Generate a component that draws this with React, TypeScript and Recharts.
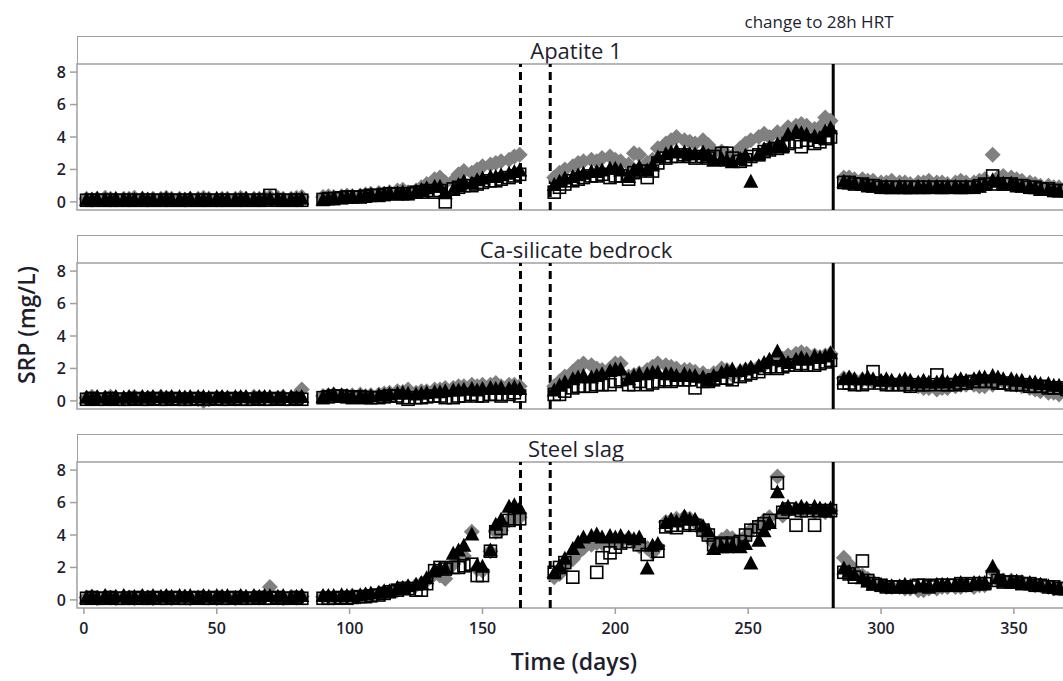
import React from 'react';
import { ScatterChart, Scatter, XAxis, YAxis, ReferenceLine, ReferenceArea } from 'recharts';

// ---- sampling days (four segments) ----
const daysA = [1,3,5,8,10,12,15,17,19,22,24,26,29,31,33,36,38,40,43,45,47,50,52,54,57,59,61,64,66,68,70,73,75,78,80,82];
const daysB = [90,92,94,97,99,101,104,106,108,111,113,115,118,120,122,125,127,129,132,134,136,139,141,143,146,148,150,153,155,157,160,162,164];
const daysC = [177,179,181,184,186,188,191,193,195,198,200,202,205,207,209,212,214,216,219,221,223,226,228,230,233,235,237,240,242,244,247,249,251,254,256,258,261,263,265,268,270,272,275,277,279,281];
const daysD = [286,288,290,293,295,297,300,302,304,307,309,311,314,316,318,321,323,325,328,330,332,335,337,339,342,344,346,349,351,353,356,358,360,363,365,367,370,372];
const days = [...daysA, ...daysB, ...daysC, ...daysD];

const xTicks = [0, 50, 100, 150, 200, 250, 300, 350];
const yTicks = [0, 2, 4, 6, 8];
const panelTitles = ['Apatite 1', 'Ca-silicate bedrock', 'Steel slag'];
const eventDays = [164.3, 175.5];
const hrtChangeDay = 282;

// ---- Apatite 1 ----
const apatiteDiamond = [
  0.2,0.15,0.2,0.25,0.2,0.15,0.2,0.2,0.25,0.2, 0.15,0.2,0.2,0.25,0.2,0.2,0.15,0.2,0.2,0.25, 0.2,0.15,0.2,0.2,0.2,0.25,0.2,0.2,0.2,0.25, 0.3,0.25,0.2,0.2,0.25,0.3,
  0.3,0.35,0.3,0.35,0.4,0.35,0.4,0.45,0.5,0.55, 0.5,0.6,0.7,0.75,0.6,0.7,0.9,1.1,1.4,1.5, 1.2,1.3,1.7,1.9,1.8,2.0,2.2,2.3,2.4,2.5, 2.6,2.8,2.9,
  1.5,1.8,2.0,2.2,2.4,2.5,2.6,2.5,2.7,2.8, 2.6,2.5,2.3,3.0,2.9,2.4,2.6,3.3,3.6,3.8, 4.0,3.8,3.7,3.6,3.8,3.5,3.0,3.1,2.9,2.8, 3.3,3.6,3.8,4.0,4.2,4.0,4.3,4.0,4.6,4.7, 4.8,4.7,4.5,4.6,5.2,5.0,
  1.5,1.5,1.4,1.4,1.3,1.3,1.2,1.2,1.3,1.2, 1.2,1.1,1.2,1.2,1.3,1.2,1.2,1.1,1.2,1.3, 1.2,1.2,1.3,1.4,2.9,1.5,1.6,1.5,1.4,1.3, 1.2,1.1,1.0,1.0,0.9,0.9,0.8,0.8,
];
const apatiteTriangle = [
  0.2,0.2,0.25,0.2,0.2,0.25,0.2,0.2,0.2,0.25, 0.2,0.2,0.2,0.25,0.2,0.2,0.2,0.25,0.2,0.2, 0.2,0.25,0.2,0.2,0.2,0.2,0.25,0.2,0.2,0.2, 0.25,0.2,0.2,0.2,0.2,0.25,
  0.2,0.25,0.3,0.3,0.35,0.4,0.4,0.45,0.5,0.5, 0.55,0.6,0.6,0.65,0.6,0.7,0.8,0.9,1.0,1.0, 0.6,0.8,1.1,1.3,1.2,1.4,1.5,1.6,1.6,1.7, 1.8,1.9,2.0,
  1.1,1.3,1.5,1.6,1.7,1.8,1.9,1.9,2.0,2.1, 2.1,2.0,1.6,2.0,2.2,2.0,2.3,2.8,3.0,3.1, 3.2,3.1,3.0,3.0,3.1,2.9,2.6,2.7,2.6,2.5, 2.7,2.9,1.3,3.0,3.3,3.4,3.6,3.5,4.2,4.4, 4.3,4.2,4.1,4.0,4.4,4.6,
  1.3,1.2,1.2,1.1,1.1,1.0,1.0,1.0,0.9,1.0, 0.9,0.9,1.0,0.9,1.0,1.0,0.9,1.0,1.0,0.9, 1.0,1.0,1.0,1.1,1.4,1.3,1.2,1.2,1.1,1.0, 1.0,0.9,0.8,0.8,0.8,0.7,0.7,0.7,
];
const apatiteSquare = [
  0.1,0.1,0.1,0.1,0.1,0.1,0.1,0.1,0.1,0.1, 0.1,0.1,0.1,0.1,0.1,0.1,0.1,0.1,0.1,0.1, 0.1,0.1,0.1,0.1,0.1,0.1,0.1,0.1,0.1,0.1, 0.4,0.1,0.1,0.1,0.1,0.1,
  0.15,0.2,0.2,0.25,0.3,0.3,0.3,0.35,0.4,0.4, 0.45,0.5,0.5,0.5,0.5,0.6,0.6,0.7,0.6,0.7, 0.0,0.8,0.9,1.0,1.0,1.1,1.2,1.3,1.3,1.4, 1.5,1.6,1.7,
  0.6,0.9,1.1,1.3,1.4,1.5,1.6,1.6,1.7,1.5, 1.6,1.6,1.4,1.8,1.9,1.5,1.9,2.4,2.7,2.8, 2.8,2.9,2.8,2.7,2.8,2.7,2.8,3.0,3.0,2.7, 2.5,2.6,2.8,2.9,3.1,3.2,3.3,3.4,3.6,3.7, 3.4,3.8,3.6,3.7,3.9,4.0,
  1.2,1.2,1.1,1.1,1.0,1.0,0.9,0.9,0.9,0.9, 0.9,0.9,0.9,0.9,0.9,0.9,0.9,0.9,0.9,0.9, 0.9,0.9,1.0,1.1,1.6,1.1,1.1,1.1,1.0,1.0, 0.9,0.9,0.8,0.8,0.7,0.7,0.7,0.7,
];

// ---- Ca-silicate bedrock ----
const caDiamond = [
  0.2,0.25,0.2,0.2,0.25,0.2,0.15,0.2,0.25,0.2, 0.2,0.2,0.25,0.2,0.2,0.15,0.2,0.2,0.1,0.0, 0.1,0.2,0.2,0.2,0.15,0.2,0.2,0.25,0.2,0.2, 0.2,0.2,0.25,0.2,0.3,0.7,
  0.3,0.35,0.4,0.35,0.3,0.35,0.4,0.3,0.35,0.4, 0.45,0.5,0.6,0.55,0.7,0.5,0.6,0.6,0.7,0.7, 0.8,0.8,0.9,0.9,1.0,0.9,1.0,1.0,1.1,0.9, 1.0,1.0,0.9,
  0.9,1.2,1.5,1.8,2.1,2.3,2.2,2.0,1.9,2.0, 2.3,2.3,1.5,1.6,1.7,1.9,2.1,2.3,2.2,2.1, 2.0,1.9,1.9,1.8,1.7,1.5,1.7,2.0,1.9,1.6, 1.8,1.9,2.0,2.1,2.2,2.4,2.5,2.6,2.8,2.9, 3.0,2.9,2.8,2.7,2.8,2.9,
  1.4,1.4,1.3,1.3,1.3,1.2,1.2,1.2,1.1,1.1, 1.0,1.0,0.9,0.8,0.8,0.7,0.8,0.8,0.9,1.0, 1.0,1.0,0.9,0.9,1.0,1.3,1.2,1.1,1.0,0.9, 0.8,0.7,0.6,0.5,0.5,0.4,0.5,0.4,
];
const caTriangle = [
  0.25,0.2,0.3,0.25,0.2,0.3,0.25,0.3,0.25,0.3, 0.25,0.3,0.3,0.25,0.3,0.3,0.25,0.3,0.3,0.3, 0.25,0.3,0.3,0.25,0.3,0.3,0.3,0.25,0.3,0.3, 0.3,0.25,0.3,0.3,0.25,0.3,
  0.3,0.4,0.45,0.4,0.35,0.3,0.35,0.3,0.35,0.4, 0.4,0.45,0.5,0.55,0.5,0.45,0.5,0.55,0.6,0.6, 0.65,0.7,0.7,0.75,0.8,0.7,0.8,0.85,0.8,0.85, 0.8,0.9,0.8,
  0.7,1.0,1.2,1.4,1.5,1.6,1.5,1.6,1.7,1.9, 2.0,2.0,1.4,1.6,1.7,1.7,1.8,1.8,1.7,1.7, 1.6,1.7,1.6,1.6,1.5,1.3,1.6,1.8,1.9,2.0, 1.9,2.0,2.1,2.2,2.4,2.6,3.1,2.5,2.4,2.6, 2.7,2.6,2.8,2.7,2.8,3.0,
  1.4,1.5,1.4,1.4,1.5,1.4,1.3,1.4,1.3,1.3, 1.4,1.3,1.2,1.3,1.2,1.2,1.3,1.2,1.3,1.4, 1.3,1.4,1.5,1.5,1.6,1.5,1.4,1.4,1.3,1.3, 1.2,1.2,1.1,1.1,1.0,1.0,0.9,0.9,
];
const caSquare = [
  0.1,0.15,0.1,0.1,0.15,0.1,0.1,0.1,0.15,0.1, 0.1,0.15,0.1,0.1,0.15,0.1,0.1,0.1,0.15,0.1, 0.1,0.15,0.1,0.1,0.15,0.1,0.1,0.1,0.15,0.1, 0.1,0.15,0.1,0.1,0.15,0.1,
  0.2,0.25,0.3,0.3,0.25,0.2,0.25,0.2,0.2,0.2, 0.25,0.3,0.3,0.2,0.1,0.2,0.2,0.25,0.3,0.3, 0.2,0.2,0.3,0.3,0.4,0.3,0.3,0.4,0.4,0.3, 0.4,0.5,0.3,
  0.4,0.4,0.6,0.8,0.9,0.9,0.9,1.0,1.0,1.0, 1.2,1.3,1.0,1.0,1.2,1.0,1.1,1.2,1.3,1.2, 1.3,1.3,1.3,0.8,1.2,1.2,1.3,1.4,1.4,1.3, 1.5,1.6,1.7,1.8,2.0,2.1,2.0,2.1,2.2,2.2, 2.3,2.2,2.2,2.3,2.4,2.5,
  1.1,1.1,1.0,1.0,1.1,1.8,1.1,1.0,1.0,1.0, 1.0,0.9,1.0,1.0,1.0,1.6,1.0,1.0,1.0,1.1, 1.1,1.2,1.2,1.2,1.2,1.1,1.1,1.0,1.0,1.0, 0.9,0.9,0.9,0.8,0.8,0.8,0.7,0.7,
];

// ---- Steel slag ----
const slagDiamond = [
  0.15,0.2,0.1,0.2,0.15,0.1,0.2,0.15,0.1,0.2, 0.15,0.1,0.15,0.2,0.1,0.15,0.2,0.1,0.15,0.2, 0.15,0.1,0.2,0.15,0.1,0.2,0.15,0.2,0.15,0.2, 0.8,0.15,0.1,0.2,0.15,0.2,
  0.2,0.2,0.15,0.2,0.2,0.25,0.2,0.3,0.3,0.4, 0.4,0.5,0.6,0.7,0.8,0.9,1.0,1.2,1.6,1.5, 1.3,2.2,2.6,2.7,4.2,1.9,1.8,3.0,4.2,4.3, 4.9,5.0,5.1,
  1.4,1.6,2.1,2.5,2.9,3.2,3.4,3.5,3.5,3.6, 3.5,3.6,3.8,3.6,3.3,3.2,2.9,3.3,4.8,4.9, 5.0,5.1,5.0,4.8,4.2,3.9,3.5,3.7,3.9,3.8, 3.6,3.9,4.3,4.6,4.9,5.1,7.6,5.2,5.5,5.6, 5.5,5.6,5.4,5.5,5.4,5.5,
  2.6,2.2,1.8,1.5,1.3,1.1,0.9,0.8,0.8,0.8, 0.7,0.7,0.6,0.6,0.7,0.7,0.8,0.8,0.8,0.8, 0.9,0.8,0.9,0.9,1.8,1.2,1.2,1.2,1.1,1.1, 1.0,0.9,0.9,0.8,0.7,0.7,0.6,0.6,
];
const slagTriangle = [
  0.2,0.25,0.2,0.3,0.2,0.25,0.3,0.2,0.25,0.3, 0.2,0.3,0.25,0.3,0.25,0.3,0.25,0.3,0.2,0.3, 0.25,0.3,0.25,0.3,0.2,0.3,0.25,0.3,0.25,0.3, 0.3,0.25,0.3,0.2,0.25,0.3,
  0.3,0.3,0.3,0.35,0.3,0.3,0.35,0.4,0.45,0.5, 0.6,0.6,0.8,0.8,0.9,1.0,1.1,1.4,1.9,2.0, 2.0,2.9,3.1,3.4,4.1,2.2,2.1,3.1,4.7,5.0, 5.8,5.9,5.7,
  1.7,2.1,2.6,3.2,3.6,3.9,4.0,4.1,3.9,4.0, 3.9,4.0,3.9,3.8,3.9,2.0,3.4,3.5,4.8,5.0, 4.9,5.2,5.0,5.0,4.6,4.3,3.2,3.3,3.3,3.4, 3.3,3.5,2.3,3.7,4.3,4.8,6.7,5.7,5.8,5.7, 5.8,5.7,5.8,5.7,5.6,5.7,
  2.0,1.8,1.6,1.4,1.2,1.0,1.0,0.9,0.9,0.9, 1.0,0.9,0.9,0.9,0.9,1.0,1.0,1.0,1.0,1.1, 1.0,1.1,1.1,1.1,2.1,1.4,1.2,1.2,1.2,1.1, 1.1,1.0,1.0,0.9,0.8,0.8,0.7,0.6,
];
const slagSquare = [
  0.1,0.15,0.1,0.1,0.15,0.1,0.1,0.1,0.15,0.1, 0.1,0.15,0.1,0.1,0.15,0.1,0.1,0.1,0.15,0.1, 0.1,0.15,0.1,0.1,0.15,0.1,0.1,0.1,0.15,0.1, 0.1,0.15,0.1,0.1,0.15,0.1,
  0.1,0.1,0.1,0.15,0.1,0.15,0.2,0.2,0.25,0.3, 0.4,0.5,0.6,0.7,0.7,0.6,0.6,1.0,1.8,2.0, 1.9,2.0,2.0,2.1,2.2,1.5,1.5,3.0,4.2,4.4, 4.9,5.0,5.0,
  1.7,2.0,2.3,1.4,null,null,null,1.7,2.6,2.9, 3.25,3.5,3.6,null,3.4,2.8,null,3.0,4.5,4.6, 4.45,4.6,4.7,4.6,4.3,4.0,3.4,3.5,3.4,3.5, 3.6,4.0,4.3,4.5,4.7,4.9,7.2,5.4,5.6,4.6, 5.5,5.5,4.6,5.5,5.5,5.5,
  1.7,1.6,1.4,2.4,1.2,1.0,0.9,0.8,0.8,0.8, 0.8,0.8,0.9,0.9,0.8,0.9,0.9,0.9,0.9,1.0, 0.9,1.0,1.0,1.0,1.4,1.2,1.1,1.1,1.1,1.0, 1.0,0.9,0.9,0.8,0.8,0.7,0.7,0.6,
];

const panelSeries = [
  [apatiteDiamond, apatiteTriangle, apatiteSquare],
  [caDiamond, caTriangle, caSquare],
  [slagDiamond, slagTriangle, slagSquare],
];

const toPoints = (vals: (number | null)[]) =>
  days
    .map((d, i) => ({ x: d, y: vals[i] }))
    .filter((p) => p.y !== null && p.y !== undefined);

// ---- layout ----
const FONT = "'Open Sans', 'Noto Sans', sans-serif";
const CHART_W = 1100;
const PLOT_LEFT = 77;
const PLOT_RIGHT = 1075;
const PLOT_H = 146;
const STRIP_H = 28;
const PAD = 4;
const panelTops = [64, 263, 462];
const X_DOMAIN: [number, number] = [-2.6, 373];
const Y_DOMAIN: [number, number] = [-0.5, 8.5];
const BORDER = '#a0a0a0';
const TEXT = '#1e1e2e';

const Diamond = (p: any) => {
  const { cx, cy } = p;
  if (cx == null || cy == null) return <g />;
  const r = 8;
  return <path d={`M${cx},${cy - r}L${cx + r},${cy}L${cx},${cy + r}L${cx - r},${cy}Z`} fill="#808080" />;
};
const Triangle = (p: any) => {
  const { cx, cy } = p;
  if (cx == null || cy == null) return <g />;
  const w = 7.5, h = 7;
  return <path d={`M${cx},${cy - h}L${cx + w},${cy + h}L${cx - w},${cy + h}Z`} fill="#000" />;
};
const Square = (p: any) => {
  const { cx, cy } = p;
  if (cx == null || cy == null) return <g />;
  const s = 6;
  return <rect x={cx - s} y={cy - s} width={2 * s} height={2 * s} fill="none" stroke="#000" strokeWidth={1.6} />;
};

function Panel({ index }: { index: number }) {
  const isBottom = index === 2;
  const [dia, tri, sq] = panelSeries[index];
  const top = panelTops[index];
  const height = PAD + PLOT_H + (isBottom ? 45 : PAD);
  return (
    <>
      <div
        style={{
          position: 'absolute',
          left: PLOT_LEFT,
          top: top - STRIP_H,
          width: PLOT_RIGHT - PLOT_LEFT,
          height: STRIP_H,
          boxSizing: 'border-box',
          borderTop: `1.5px solid ${BORDER}`,
          borderLeft: `1.5px solid ${BORDER}`,
          borderRight: `1.5px solid ${BORDER}`,
          background: '#fff',
          textAlign: 'center',
          fontFamily: FONT,
          fontSize: 22,
          lineHeight: `${STRIP_H - 2}px`,
          color: TEXT,
        }}
      >
        {panelTitles[index]}
      </div>
      <div style={{ position: 'absolute', left: 0, top: top - PAD }}>
        <ScatterChart
          width={CHART_W}
          height={height}
          margin={{ top: PAD, right: CHART_W - PLOT_RIGHT, bottom: isBottom ? 0 : PAD, left: 0 }}
        >
          <XAxis
            type="number"
            dataKey="x"
            domain={X_DOMAIN}
            allowDataOverflow
            ticks={xTicks}
            hide={!isBottom}
            height={45}
            axisLine={false}
            tickSize={6}
            tickMargin={9}
            tickLine={{ stroke: BORDER, strokeWidth: 1.5 }}
            tick={{ fill: TEXT, fontSize: 16, fontFamily: FONT, fontWeight: 600 }}
          />
          <YAxis
            type="number"
            dataKey="y"
            domain={Y_DOMAIN}
            allowDataOverflow
            ticks={yTicks}
            width={PLOT_LEFT}
            axisLine={false}
            tickSize={7}
            tickMargin={4}
            tickLine={{ stroke: BORDER, strokeWidth: 1.5 }}
            tick={{ fill: TEXT, fontSize: 16, fontFamily: FONT, fontWeight: 600 }}
          />
          <ReferenceArea
            x1={X_DOMAIN[0]}
            x2={X_DOMAIN[1]}
            y1={Y_DOMAIN[0]}
            y2={Y_DOMAIN[1]}
            fill="none"
            fillOpacity={0}
            stroke={BORDER}
            strokeWidth={1.5}
          />
          <Scatter data={toPoints(dia)} shape={Diamond} isAnimationActive={false} />
          <Scatter data={toPoints(sq)} shape={Square} isAnimationActive={false} />
          <Scatter data={toPoints(tri)} shape={Triangle} isAnimationActive={false} />
          {eventDays.map((d) => (
            <ReferenceLine key={d} x={d} stroke="#000" strokeWidth={3} strokeDasharray="8 5" />
          ))}
          <ReferenceLine x={hrtChangeDay} stroke="#000" strokeWidth={3} />
        </ScatterChart>
      </div>
    </>
  );
}

export default function App() {
  return (
    <div
      style={{
        position: 'fixed',
        left: 0,
        top: 0,
        width: 1063,
        height: 681,
        overflow: 'hidden',
        background: '#fff',
      }}
    >
      {[0, 1, 2].map((i) => (
        <Panel key={i} index={i} />
      ))}
      <svg width={1063} height={681} style={{ position: 'absolute', left: 0, top: 0, pointerEvents: 'none' }}>
        <text x={819} y={28} textAnchor="middle" fontFamily={FONT} fontSize={17} fill={TEXT}>
          change to 28h HRT
        </text>
        <text x={574} y={670} textAnchor="middle" fontFamily={FONT} fontSize={23} fontWeight={600} fill={TEXT}>
          Time (days)
        </text>
        <text
          x={0}
          y={0}
          transform="translate(35,325) rotate(-90)"
          textAnchor="middle"
          fontFamily={FONT}
          fontSize={23}
          fontWeight={600}
          fill={TEXT}
        >
          SRP (mg/L)
        </text>
      </svg>
    </div>
  );
}
